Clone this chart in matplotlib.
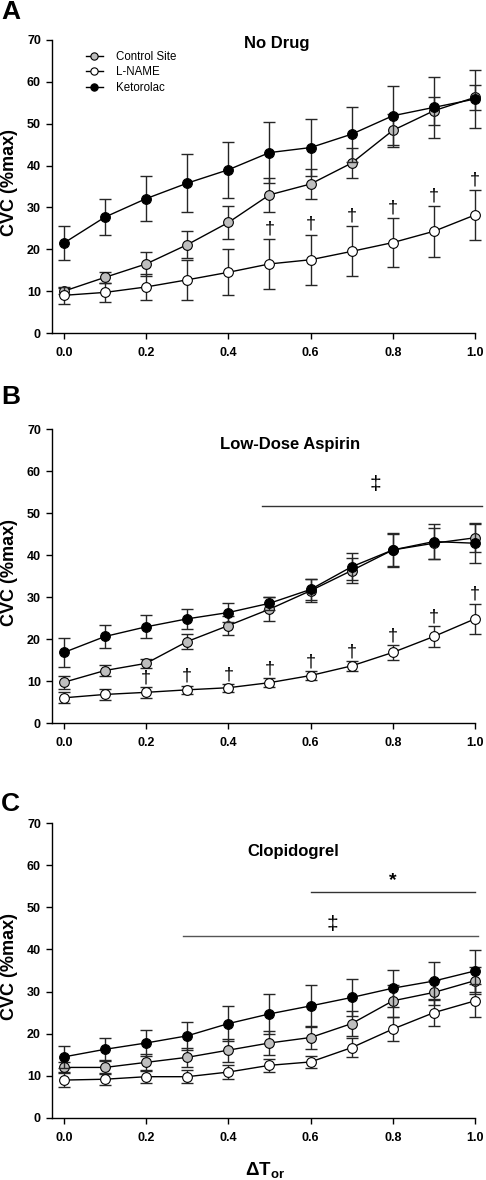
import matplotlib
matplotlib.use("Agg")
import matplotlib.pyplot as plt
import numpy as np

plt.rcParams['font.family'] = ['Liberation Sans', 'DejaVu Sans']
plt.rcParams['mathtext.fontset'] = 'custom'
plt.rcParams['mathtext.rm'] = 'Liberation Sans'
plt.rcParams['mathtext.bf'] = 'Liberation Sans:bold'
plt.rcParams['mathtext.it'] = 'Liberation Sans:italic'

x = [0.0, 0.1, 0.2, 0.3, 0.4, 0.5, 0.6, 0.7, 0.8, 0.9, 1.0]
series_names = ["Control Site", "L-NAME", "Ketorolac"]

# Panel A: No Drug
a_control = [10.0, 13.3, 16.5, 21.1, 26.4, 33.0, 35.6, 40.6, 48.4, 53.1, 56.3]
a_control_err = [0.8, 1.3, 2.8, 3.3, 4.0, 4.0, 3.6, 3.6, 4.0, 3.4, 3.0]
a_lname = [9.0, 9.7, 11.0, 12.7, 14.5, 16.5, 17.5, 19.5, 21.6, 24.3, 28.2]
a_lname_err = [2.0, 2.2, 3.0, 4.7, 5.5, 6.0, 6.0, 6.0, 5.8, 6.1, 6.0]
a_keto = [21.5, 27.7, 32.1, 35.8, 39.0, 43.1, 44.3, 47.5, 51.9, 53.9, 55.9]
a_keto_err = [4.1, 4.4, 5.3, 7.0, 6.7, 7.2, 6.8, 6.6, 7.1, 7.2, 7.0]
a_dagger_x = [0.5, 0.6, 0.7, 0.8, 0.9, 1.0]

# Panel B: Low-Dose Aspirin
b_control = [9.7, 12.5, 14.2, 19.4, 23.2, 27.1, 31.5, 36.3, 41.2, 42.8, 44.1]
b_control_err = [1.5, 1.2, 1.0, 1.8, 2.2, 2.8, 2.8, 2.9, 4.0, 3.7, 3.3]
b_lname = [6.0, 6.8, 7.3, 7.9, 8.4, 9.6, 11.3, 13.6, 16.8, 20.6, 24.8]
b_lname_err = [1.3, 1.3, 1.3, 1.0, 0.9, 1.1, 1.1, 1.2, 1.8, 2.5, 3.6]
b_keto = [16.8, 20.6, 22.9, 24.8, 26.3, 28.5, 31.8, 37.2, 41.2, 43.2, 42.8]
b_keto_err = [3.4, 2.8, 2.7, 2.3, 2.2, 1.6, 2.6, 3.2, 3.9, 4.2, 4.8]
b_dagger_x = [0.2, 0.3, 0.4, 0.5, 0.6, 0.7, 0.8, 0.9, 1.0]

# Panel C: Clopidogrel
c_control = [12.0, 12.0, 13.2, 14.4, 16.1, 17.8, 19.1, 22.4, 27.8, 29.8, 32.6]
c_control_err = [1.2, 1.5, 2.0, 2.3, 2.7, 2.8, 2.8, 3.0, 3.8, 3.0, 3.2]
c_lname = [9.0, 9.2, 9.8, 9.8, 10.9, 12.5, 13.3, 16.7, 21.1, 25.0, 27.8]
c_lname_err = [1.6, 1.4, 1.6, 1.6, 1.6, 1.6, 1.5, 2.3, 2.9, 3.2, 3.9]
c_keto = [14.5, 16.3, 17.8, 19.5, 22.4, 24.7, 26.6, 28.6, 30.8, 32.5, 34.9]
c_keto_err = [2.7, 2.6, 3.0, 3.3, 4.2, 4.7, 5.0, 4.5, 4.4, 4.6, 5.0]

titles = ["No Drug", "Low-Dose Aspirin", "Clopidogrel"]
panel_letters = ["A", "B", "C"]
yticks = [0, 10, 20, 30, 40, 50, 60, 70]
xticks = [0.0, 0.2, 0.4, 0.6, 0.8, 1.0]

fill_colors = ['#bebebe', 'white', 'black']

fig = plt.figure(figsize=(4.86, 11.8), dpi=100)

W, H = 486.0, 1180.0
def ax_rect(left, right, top, bottom):
    return [left / W, 1 - bottom / H, (right - left) / W, (bottom - top) / H]

axes = [
    fig.add_axes(ax_rect(52, 475, 40, 333)),
    fig.add_axes(ax_rect(52, 475, 429, 723)),
    fig.add_axes(ax_rect(52, 475, 823, 1118)),
]

panels = [
    (a_control, a_control_err, a_lname, a_lname_err, a_keto, a_keto_err),
    (b_control, b_control_err, b_lname, b_lname_err, b_keto, b_keto_err),
    (c_control, c_control_err, c_lname, c_lname_err, c_keto, c_keto_err),
]

for ax, data in zip(axes, panels):
    means = [data[0], data[2], data[4]]
    errs = [data[1], data[3], data[5]]
    for i, (m, e) in enumerate(zip(means, errs)):
        ax.errorbar(x, m, yerr=e, fmt='none', ecolor='#262626', elinewidth=1.0,
                    capsize=4, capthick=1.0, zorder=2 + i * 2, clip_on=False)
        ax.plot(x, m, '-', color='black', lw=1.0, marker='o', markersize=7,
                markerfacecolor=fill_colors[i], markeredgecolor='black',
                markeredgewidth=0.8, label=series_names[i], zorder=3 + i * 2,
                clip_on=False)
    ax.set_xlim(-0.029, 1.0)
    ax.set_ylim(0, 70)
    ax.set_yticks(yticks)
    ax.set_xticks(xticks)
    ax.set_xticklabels([f"{t:.1f}" for t in xticks])
    for s in ['top', 'right']:
        ax.spines[s].set_visible(False)
    for s in ['left', 'bottom']:
        ax.spines[s].set_linewidth(1.0)
    ax.tick_params(axis='both', direction='out', length=4, width=1.0, labelsize=9)
    ax.tick_params(axis='x', pad=6)
    ax.tick_params(axis='y', pad=4)
    for lbl in ax.get_xticklabels() + ax.get_yticklabels():
        lbl.set_fontweight('bold')

# Daggers
for xd in a_dagger_x:
    i = x.index(xd)
    axes[0].text(xd, a_lname[i] + a_lname_err[i] + 0.4, '\u2020', ha='center', va='bottom',
                 fontsize=13, clip_on=False)
for xd in b_dagger_x:
    i = x.index(xd)
    axes[1].text(xd, b_lname[i] + b_lname_err[i] + 0.2, '\u2020', ha='center', va='bottom',
                 fontsize=13, clip_on=False)

# Significance bars
axes[1].plot([0.483, 1.017], [51.7, 51.7], color='#333333', lw=1.0, clip_on=False)
axes[1].text(0.757, 56.7, '\u2021', ha='center', va='center', fontsize=15)

axes[2].plot([0.6, 1.0], [53.6, 53.6], color='#333333', lw=1.0, clip_on=False)
axes[2].text(0.80, 56.4, '*', ha='center', va='center', fontsize=14, fontweight='bold')
axes[2].plot([0.29, 1.007], [43.1, 43.1], color='#555555', lw=1.0, clip_on=False)
axes[2].text(0.654, 45.8, '\u2021', ha='center', va='center', fontsize=15)

# Titles
axes[0].text(0.517, 69.2, titles[0], ha='center', va='center', fontsize=12, fontweight='bold')
axes[1].text(0.55, 66.2, titles[1], ha='center', va='center', fontsize=12, fontweight='bold')
axes[2].text(0.557, 63.3, titles[2], ha='center', va='center', fontsize=12, fontweight='bold')

# Legend
axes[0].legend(loc='upper left', bbox_to_anchor=(0.08, 0.963), frameon=False,
               fontsize=8.3, handlelength=1.5, handletextpad=1.1, borderpad=0,
               labelspacing=0.3, markerscale=0.75, borderaxespad=0)

# Y labels
for ax, yc in zip(axes, [182, 572, 966]):
    fig.text(10 / W, 1 - yc / H, 'CVC (%max)', rotation=90, ha='center', va='center',
             fontsize=13, fontweight='bold')

# Panel letters
for letter, yc in zip(panel_letters, [12, 396.5, 804]):
    fig.text(1 / W, 1 - yc / H, letter, ha='left', va='center', fontsize=19, fontweight='bold')

# X label
fig.text(265 / W, 1 - 1170 / H, r'$\mathbf{\Delta T_{or}}$', ha='center', va='center', fontsize=13.5)

fig.savefig('out.png', dpi=100)
